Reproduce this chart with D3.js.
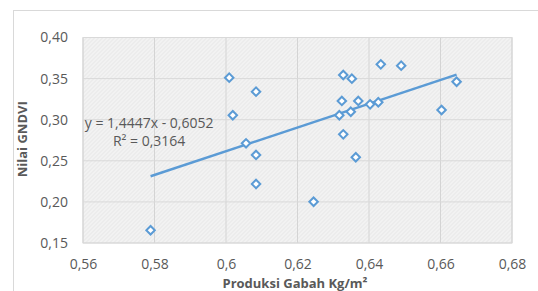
<!DOCTYPE html>
<html>
<head>
<meta charset="utf-8">
<script src="https://cdn.jsdelivr.net/npm/d3@7"></script>
<style>
  body { margin: 0; background: #fff; }
  svg text { font-family: "Open Sans", sans-serif; fill: #595959; }
</style>
</head>
<body>
<div id="chart"></div>
<script>
// produksi gabah (kg/m2) vs nilai GNDVI
const produksi = [0.5789, 0.6009, 0.6084, 0.6019, 0.6056, 0.6084, 0.6084, 0.6433, 0.6490, 0.6328, 0.6352,
                  0.6324, 0.6370, 0.6403, 0.6426, 0.6317, 0.6349, 0.6328, 0.6363, 0.6645, 0.6603, 0.6245];
const gndvi    = [0.1655, 0.3511, 0.3341, 0.3054, 0.2713, 0.2571, 0.2218, 0.3674, 0.3657, 0.3544, 0.3499,
                  0.3228, 0.3228, 0.3187, 0.3212, 0.3054, 0.3097, 0.2822, 0.2543, 0.3462, 0.3118, 0.2002];
const xTicks = [0.56, 0.58, 0.60, 0.62, 0.64, 0.66, 0.68];
const yTicks = [0.15, 0.20, 0.25, 0.30, 0.35, 0.40];
const slope = 1.4447, intercept = -0.6052, r2 = 0.3164;

const W = 538, H = 291;
const margin = { top: 37.5, right: 26, bottom: 48, left: 83 };
const width = W - margin.left - margin.right;
const height = H - margin.top - margin.bottom;

const fmt = d => {
  let s = d3.format('.2f')(d);
  if (s === '0.60') s = '0.6';
  return s.replace('.', ',');
};

const svg = d3.select('#chart').append('svg')
  .attr('width', W).attr('height', H);

// hatch pattern for plot area
const pat = svg.append('defs').append('pattern')
  .attr('id', 'hatch').attr('patternUnits', 'userSpaceOnUse')
  .attr('width', 4).attr('height', 4);
pat.append('rect').attr('width', 4).attr('height', 4).attr('fill', '#f2f2f2');
pat.append('path').attr('d', 'M-1,1 l2,-2 M0,4 l4,-4 M3,5 l2,-2')
  .attr('stroke', '#e6e6e6').attr('stroke-width', 1);

// chart frame
svg.append('rect')
  .attr('x', 13.5).attr('y', 10.5).attr('width', 540).attr('height', 300)
  .attr('fill', 'none').attr('stroke', '#d9d9d9');

const g = svg.append('g')
  .attr('transform', `translate(${margin.left}, ${margin.top})`);

const x = d3.scaleLinear().domain([0.56, 0.68]).range([0, width]);
const y = d3.scaleLinear().domain([0.15, 0.40]).range([height, 0]);

g.append('rect')
  .attr('width', width).attr('height', height)
  .attr('fill', 'url(#hatch)').attr('stroke', '#d9d9d9');

// gridlines
g.selectAll('.vgrid').data(xTicks).join('line')
  .attr('class', 'vgrid')
  .attr('x1', d => x(d)).attr('x2', d => x(d))
  .attr('y1', 0).attr('y2', height)
  .attr('stroke', '#d4d4d4');
g.selectAll('.hgrid').data(yTicks).join('line')
  .attr('class', 'hgrid')
  .attr('x1', 0).attr('x2', width)
  .attr('y1', d => y(d)).attr('y2', d => y(d))
  .attr('stroke', '#d9d9d9');

// axes (labels only)
const xAxis = d3.axisBottom(x).tickValues(xTicks).tickFormat(fmt).tickSize(0).tickPadding(16);
const yAxis = d3.axisLeft(y).tickValues(yTicks).tickFormat(fmt).tickSize(0).tickPadding(15);

g.append('g').attr('class', 'x-axis')
  .attr('transform', `translate(0, ${height})`)
  .call(xAxis)
  .call(a => a.select('.domain').remove())
  .selectAll('text').style('font-size', '14px').attr('fill', '#595959');

g.append('g').attr('class', 'y-axis')
  .call(yAxis)
  .call(a => a.select('.domain').remove())
  .selectAll('text').style('font-size', '14px').attr('fill', '#595959');

// trendline
const xExt = d3.extent(produksi);
g.append('line')
  .attr('x1', x(xExt[0])).attr('y1', y(slope * xExt[0] + intercept))
  .attr('x2', x(xExt[1])).attr('y2', y(slope * xExt[1] + intercept))
  .attr('stroke', '#5b9bd5').attr('stroke-width', 2.5);

// points
const data = produksi.map((p, i) => ({ p, v: gndvi[i] }));
g.selectAll('.pt').data(data).join('path')
  .attr('class', 'pt')
  .attr('d', d3.symbol(d3.symbolSquare, 36)())
  .attr('transform', d => `translate(${x(d.p)}, ${y(d.v)}) rotate(45)`)
  .attr('fill', '#fff').attr('stroke', '#5b9bd5').attr('stroke-width', 2);

// equation label
const eq = g.append('text')
  .attr('x', x(0.5785)).attr('y', y(0.3)).attr('dy', 8)
  .style('text-anchor', 'middle').style('font-size', '14px');
eq.append('tspan').text(`y = ${String(slope).replace('.', ',')}x - ${String(-intercept).replace('.', ',')}`);
eq.append('tspan').attr('x', x(0.5785)).attr('dy', 18)
  .text(`R² = ${String(r2).replace('.', ',')}`);

// axis titles
svg.append('text')
  .attr('x', 295).attr('y', 288)
  .style('text-anchor', 'middle').style('font-size', '13px').style('font-weight', 'bold')
  .text('Produksi Gabah Kg/m²');

svg.append('text')
  .attr('transform', `translate(27, ${margin.top + height / 2 - 1}) rotate(-90)`)
  .style('text-anchor', 'middle').style('font-size', '13px').style('font-weight', 'bold')
  .text('Nilai GNDVI');
</script>
</body>
</html>
